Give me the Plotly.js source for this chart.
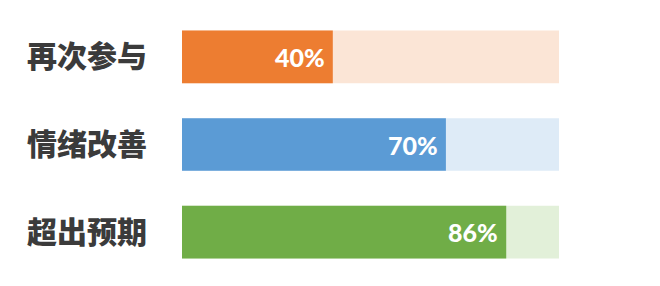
<!DOCTYPE html>
<html>
<head>
<meta charset="utf-8">
<script src="https://cdn.plot.ly/plotly-3.0.1.min.js"></script>
<style>html,body{margin:0;padding:0;background:#fff;}#chart{width:660px;height:286px;}</style>
</head>
<body>
<div id="chart"></div>
<script>
const categories = ["再次参与", "情绪改善", "超出预期"];
const values = [40, 70, 86];
const fullValues = [100, 100, 100];
const valueLabels = ["40%", "70%", "86%"];
const barColors = ["#ED7D31", "#5B9BD5", "#70AD47"];
const bgColors = ["#FBE5D6", "#DEEBF7", "#E2F0D9"];

const bg = {
  type: "bar", orientation: "h",
  y: categories, x: fullValues,
  marker: {color: bgColors, line: {width: 0}},
  width: 0.6, hoverinfo: "skip", showlegend: false
};
const fg = {
  type: "bar", orientation: "h",
  y: categories, x: values,
  marker: {color: barColors, line: {width: 0}},
  width: 0.6, hoverinfo: "skip", showlegend: false
};

const annotations = categories.map((c, i) => ({
  x: values[i], y: c, xref: "x", yref: "y",
  text: valueLabels[i], showarrow: false,
  xanchor: "right", yanchor: "middle", xshift: -6, yshift: 0,
  font: {family: "Lato, 'Open Sans', sans-serif", size: 25, color: "#ffffff", weight: 900}
}));

const layout = {
  width: 660, height: 286,
  margin: {l: 182, r: 101, t: 13, b: 10},
  paper_bgcolor: "#ffffff", plot_bgcolor: "#ffffff",
  barmode: "overlay",
  xaxis: {range: [0, 100], visible: false, fixedrange: true},
  yaxis: {
    type: "category", categoryorder: "array", categoryarray: categories,
    autorange: "reversed", showgrid: false, zeroline: false, showline: false,
    ticks: "", ticklabelstandoff: 34,
    tickfont: {family: "'Noto Sans CJK SC', sans-serif", size: 30, color: "#3b3b3b", weight: 900}
  },
  annotations: annotations,
  hovermode: false
};

Plotly.newPlot("chart", [bg, fg], layout, {displayModeBar: false, staticPlot: true});
</script>
</body>
</html>
